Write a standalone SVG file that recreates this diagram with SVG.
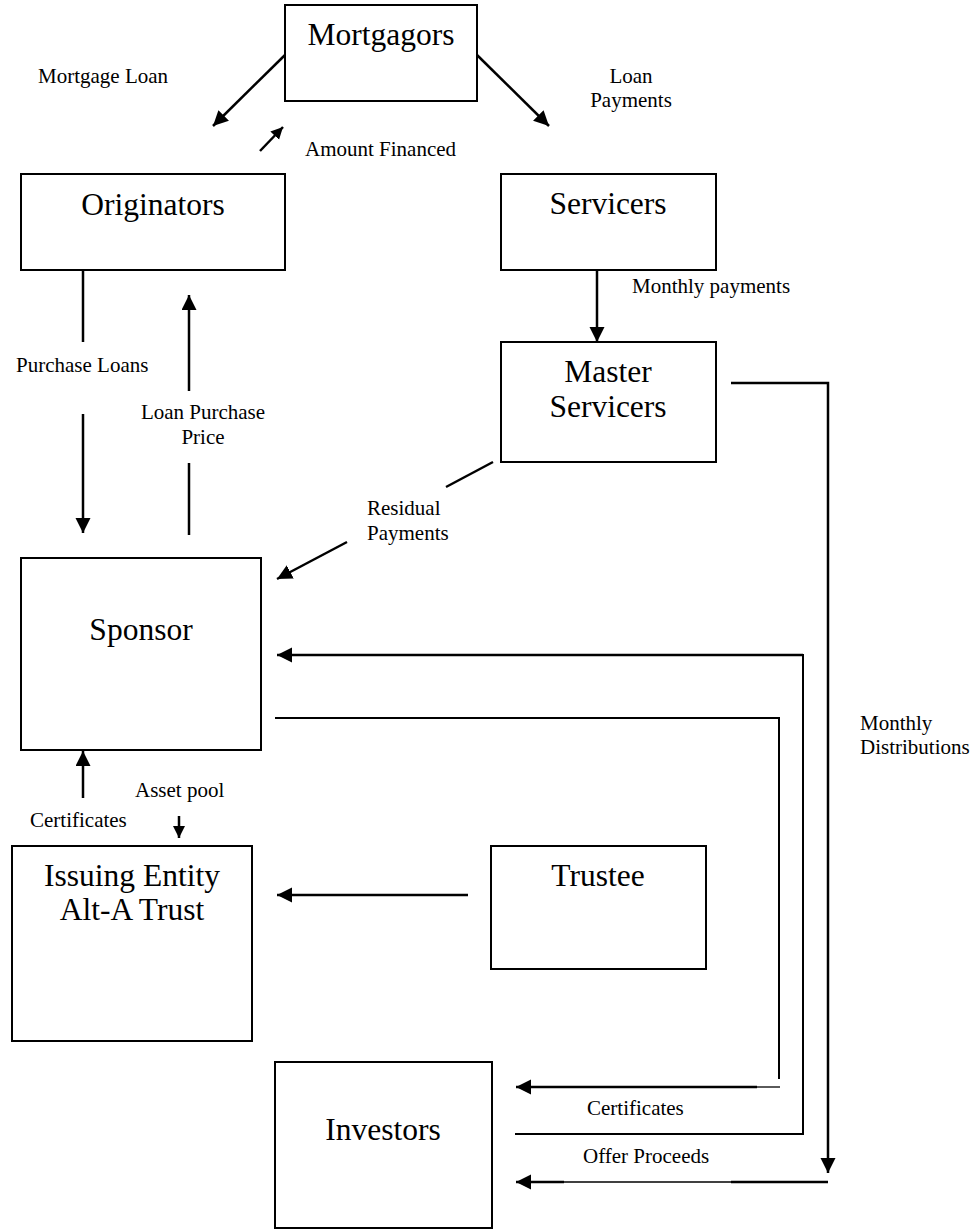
<svg xmlns="http://www.w3.org/2000/svg" width="979" height="1230" viewBox="0 0 979 1230">
<defs>
<marker id="ah" markerUnits="userSpaceOnUse" markerWidth="16" markerHeight="16" refX="15" refY="7.5" orient="auto">
<path d="M0,0 L15,7.5 L0,15 Z" fill="#000"/>
</marker>
<marker id="ahs" markerUnits="userSpaceOnUse" markerWidth="14" markerHeight="14" refX="12" refY="6" orient="auto">
<path d="M0,0 L12,6 L0,12 Z" fill="#000"/>
</marker>
<style>
.box{fill:#fff;stroke:#000;stroke-width:2}
.nt{font-family:"Liberation Serif","Times New Roman",serif;font-size:31.5px;fill:#000;text-anchor:middle}
.lb{font-family:"Liberation Serif","Times New Roman",serif;font-size:21px;fill:#000}
.c{text-anchor:middle}
.ln{fill:none;stroke:#000;stroke-width:2.5}
.th{fill:none;stroke:#000;stroke-width:2}
.tn{fill:none;stroke:#000;stroke-width:1.3}
</style>
</defs>
<rect width="979" height="1230" fill="#fff"/>

<g id="mortgagors"><rect class="box" x="285" y="5" width="192" height="96"/><text class="nt" x="381" y="45">Mortgagors</text></g>
<g id="originators"><rect class="box" x="21" y="174" width="264" height="96"/><text class="nt" x="153" y="215">Originators</text></g>
<g id="servicers"><rect class="box" x="501" y="174" width="215" height="96"/><text class="nt" x="608" y="214">Servicers</text></g>
<g id="master-servicers"><rect class="box" x="501" y="342" width="215" height="120"/><text class="nt" x="608" y="382">Master</text><text class="nt" x="608" y="417">Servicers</text></g>
<g id="sponsor"><rect class="box" x="21" y="558" width="240" height="192"/><text class="nt" x="141" y="640">Sponsor</text></g>
<g id="issuing-entity"><rect class="box" x="12" y="846" width="240" height="195"/><text class="nt" x="132" y="886">Issuing Entity</text><text class="nt" x="132" y="920">Alt-A Trust</text></g>
<g id="trustee"><rect class="box" x="491" y="846" width="215" height="123"/><text class="nt" x="598" y="886">Trustee</text></g>
<g id="investors"><rect class="box" x="275" y="1062" width="217" height="166"/><text class="nt" x="383" y="1140">Investors</text></g>

<g id="connectors">
<line class="ln" x1="285" y1="55" x2="213" y2="126" marker-end="url(#ah)"/>
<line class="ln" x1="477" y1="55" x2="549" y2="126" marker-end="url(#ah)"/>
<line class="ln" x1="260" y1="151" x2="283" y2="127" marker-end="url(#ahs)"/>
<line class="ln" x1="83" y1="270" x2="83" y2="342"/>
<line class="ln" x1="83" y1="414" x2="83" y2="533" marker-end="url(#ah)"/>
<line class="ln" x1="189" y1="391" x2="189" y2="295" marker-end="url(#ah)"/>
<line class="ln" x1="189" y1="463" x2="189" y2="535"/>
<line class="ln" x1="597" y1="270" x2="597" y2="342" marker-end="url(#ah)"/>
<line class="ln" x1="493" y1="462" x2="446" y2="487"/>
<line class="ln" x1="347" y1="542" x2="277" y2="579" marker-end="url(#ah)"/>
<polyline class="th" points="515,1134 803,1134 803,655 792,655"/>
<line class="ln" x1="803" y1="655" x2="277" y2="655" marker-end="url(#ah)"/>
<polyline class="th" points="275,718 779,718 779,1079"/>
<line class="tn" x1="780" y1="1087" x2="756" y2="1087"/>
<line class="ln" x1="757" y1="1087" x2="516" y2="1087" marker-end="url(#ah)"/>
<polyline class="ln" points="731,383 828,383 828,1173" marker-end="url(#ah)"/>
<line class="ln" x1="828" y1="1182" x2="731" y2="1182"/>
<line class="tn" x1="731" y1="1182" x2="563" y2="1182"/>
<line class="ln" x1="564" y1="1182" x2="516" y2="1182" marker-end="url(#ah)"/>
<line class="ln" x1="83" y1="798" x2="83" y2="751" marker-end="url(#ah)"/>
<line class="ln" x1="179" y1="816" x2="179" y2="838" marker-end="url(#ahs)"/>
<line class="ln" x1="468" y1="895" x2="277" y2="895" marker-end="url(#ah)"/>
</g>

<g id="labels">
<text class="lb" x="38" y="83">Mortgage Loan</text>
<text class="lb c" x="631" y="83">Loan</text>
<text class="lb c" x="631" y="107">Payments</text>
<text class="lb" x="305" y="156">Amount Financed</text>
<text class="lb" x="632" y="293">Monthly payments</text>
<text class="lb" x="16" y="372">Purchase Loans</text>
<text class="lb c" x="203" y="419">Loan Purchase</text>
<text class="lb c" x="203" y="444">Price</text>
<text class="lb" x="367" y="515">Residual</text>
<text class="lb" x="367" y="540">Payments</text>
<text class="lb" x="860" y="730">Monthly</text>
<text class="lb" x="860" y="754">Distributions</text>
<text class="lb" x="135" y="797">Asset pool</text>
<text class="lb" x="30" y="827">Certificates</text>
<text class="lb" x="587" y="1115">Certificates</text>
<text class="lb" x="583" y="1163">Offer Proceeds</text>
</g>
</svg>
